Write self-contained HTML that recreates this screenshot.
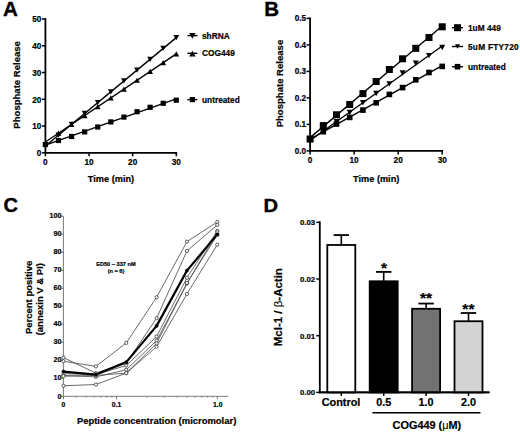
<!DOCTYPE html>
<html><head><meta charset="utf-8"><style>
html,body{margin:0;padding:0;background:#fff;}
svg{display:block;font-family:"Liberation Sans", sans-serif;}
text{stroke:#000;stroke-width:0.2px;}
text.big{stroke-width:0.35px;}
tspan.sym{font-weight:normal;stroke-width:0.1px;}
</style></head><body>
<svg width="520" height="433" viewBox="0 0 520 433">
<rect width="520" height="433" fill="#fff"/>
<text x="0" y="0" font-size="19.5" font-weight="bold" transform="translate(3.0,15.9) scale(1.06,1)" class="big">A</text>
<line x1="45.40" y1="18.10" x2="45.40" y2="153.70" stroke="#000" stroke-width="1.8"/>
<line x1="44.50" y1="152.80" x2="177.20" y2="152.80" stroke="#000" stroke-width="1.8"/>
<line x1="41.90" y1="152.80" x2="45.40" y2="152.80" stroke="#000" stroke-width="1.5"/>
<text x="41.40" y="156.10" font-size="8.2" text-anchor="end" font-weight="bold" >0</text>
<line x1="41.90" y1="126.04" x2="45.40" y2="126.04" stroke="#000" stroke-width="1.5"/>
<text x="41.40" y="129.34" font-size="8.2" text-anchor="end" font-weight="bold" >10</text>
<line x1="41.90" y1="99.28" x2="45.40" y2="99.28" stroke="#000" stroke-width="1.5"/>
<text x="41.40" y="102.58" font-size="8.2" text-anchor="end" font-weight="bold" >20</text>
<line x1="41.90" y1="72.52" x2="45.40" y2="72.52" stroke="#000" stroke-width="1.5"/>
<text x="41.40" y="75.82" font-size="8.2" text-anchor="end" font-weight="bold" >30</text>
<line x1="41.90" y1="45.76" x2="45.40" y2="45.76" stroke="#000" stroke-width="1.5"/>
<text x="41.40" y="49.06" font-size="8.2" text-anchor="end" font-weight="bold" >40</text>
<line x1="41.90" y1="19.00" x2="45.40" y2="19.00" stroke="#000" stroke-width="1.5"/>
<text x="41.40" y="22.30" font-size="8.2" text-anchor="end" font-weight="bold" >50</text>
<line x1="45.40" y1="152.80" x2="45.40" y2="156.30" stroke="#000" stroke-width="1.5"/>
<text x="45.40" y="164.50" font-size="8.2" text-anchor="middle" font-weight="bold" >0</text>
<line x1="89.03" y1="152.80" x2="89.03" y2="156.30" stroke="#000" stroke-width="1.5"/>
<text x="89.03" y="164.50" font-size="8.2" text-anchor="middle" font-weight="bold" >10</text>
<line x1="132.67" y1="152.80" x2="132.67" y2="156.30" stroke="#000" stroke-width="1.5"/>
<text x="132.67" y="164.50" font-size="8.2" text-anchor="middle" font-weight="bold" >20</text>
<line x1="176.30" y1="152.80" x2="176.30" y2="156.30" stroke="#000" stroke-width="1.5"/>
<text x="176.30" y="164.50" font-size="8.2" text-anchor="middle" font-weight="bold" >30</text>
<text x="111.00" y="181.80" font-size="9.2" text-anchor="middle" font-weight="bold" >Time (min)</text>
<text x="0" y="0" font-size="9.55" font-weight="bold" text-anchor="middle" transform="translate(20.4,84.85) rotate(-90)">Phosphate Release</text>
<line x1="45.40" y1="146.00" x2="176.30" y2="37.60" stroke="#000" stroke-width="1.4"/>
<line x1="45.40" y1="142.00" x2="176.30" y2="53.80" stroke="#000" stroke-width="1.4"/>
<line x1="45.40" y1="145.09" x2="176.30" y2="98.89" stroke="#000" stroke-width="1.4"/>
<path d="M42.50 142.19L48.30 142.19L45.40 147.41Z" fill="#000"/>
<path d="M42.50 146.91L48.30 146.91L45.40 141.69Z" fill="#000"/>
<path d="M55.59 132.55L61.39 132.55L58.49 137.77Z" fill="#000"/>
<path d="M55.59 135.79L61.39 135.79L58.49 130.57Z" fill="#000"/>
<path d="M68.68 121.71L74.48 121.71L71.58 126.93Z" fill="#000"/>
<path d="M68.68 126.97L74.48 126.97L71.58 121.75Z" fill="#000"/>
<path d="M81.77 110.87L87.57 110.87L84.67 116.09Z" fill="#000"/>
<path d="M81.77 118.15L87.57 118.15L84.67 112.93Z" fill="#000"/>
<path d="M94.86 100.03L100.66 100.03L97.76 105.25Z" fill="#000"/>
<path d="M94.86 109.33L100.66 109.33L97.76 104.11Z" fill="#000"/>
<path d="M107.95 89.19L113.75 89.19L110.85 94.41Z" fill="#000"/>
<path d="M107.95 100.51L113.75 100.51L110.85 95.29Z" fill="#000"/>
<path d="M121.04 78.35L126.84 78.35L123.94 83.57Z" fill="#000"/>
<path d="M121.04 91.69L126.84 91.69L123.94 86.47Z" fill="#000"/>
<path d="M134.13 67.51L139.93 67.51L137.03 72.73Z" fill="#000"/>
<path d="M134.13 82.87L139.93 82.87L137.03 77.65Z" fill="#000"/>
<path d="M147.22 56.67L153.02 56.67L150.12 61.89Z" fill="#000"/>
<path d="M147.22 74.05L153.02 74.05L150.12 68.83Z" fill="#000"/>
<path d="M160.31 45.83L166.11 45.83L163.21 51.05Z" fill="#000"/>
<path d="M160.31 65.23L166.11 65.23L163.21 60.01Z" fill="#000"/>
<path d="M173.40 34.99L179.20 34.99L176.30 40.21Z" fill="#000"/>
<path d="M173.40 56.41L179.20 56.41L176.30 51.19Z" fill="#000"/>
<rect x="42.80" y="141.90" width="5.2" height="5.2" fill="#000"/>
<rect x="55.89" y="137.90" width="5.2" height="5.2" fill="#000"/>
<rect x="68.98" y="133.90" width="5.2" height="5.2" fill="#000"/>
<rect x="82.07" y="129.30" width="5.2" height="5.2" fill="#000"/>
<rect x="95.16" y="124.40" width="5.2" height="5.2" fill="#000"/>
<rect x="108.25" y="119.30" width="5.2" height="5.2" fill="#000"/>
<rect x="121.34" y="114.50" width="5.2" height="5.2" fill="#000"/>
<rect x="134.43" y="109.10" width="5.2" height="5.2" fill="#000"/>
<rect x="147.52" y="104.70" width="5.2" height="5.2" fill="#000"/>
<rect x="160.61" y="100.70" width="5.2" height="5.2" fill="#000"/>
<rect x="173.70" y="97.60" width="5.2" height="5.2" fill="#000"/>
<line x1="187.40" y1="35.60" x2="197.40" y2="35.60" stroke="#000" stroke-width="1.4"/>
<path d="M189.20 33.02L195.60 33.02L192.40 38.78Z" fill="#000"/>
<text x="202.00" y="38.60" font-size="8.3" text-anchor="start" font-weight="bold" >shRNA</text>
<line x1="187.40" y1="53.30" x2="197.40" y2="53.30" stroke="#000" stroke-width="1.4"/>
<path d="M189.20 56.48L195.60 56.48L192.40 50.72Z" fill="#000"/>
<text x="202.00" y="56.30" font-size="8.3" text-anchor="start" font-weight="bold" >COG449</text>
<line x1="187.40" y1="99.60" x2="197.40" y2="99.60" stroke="#000" stroke-width="1.4"/>
<rect x="189.80" y="97.00" width="5.2" height="5.2" fill="#000"/>
<text x="202.00" y="102.60" font-size="8.3" text-anchor="start" font-weight="bold" >untreated</text>
<text x="0" y="0" font-size="19.5" font-weight="bold" transform="translate(264.2,15.9) scale(1.05,1)" class="big">B</text>
<line x1="310.10" y1="17.50" x2="310.10" y2="151.80" stroke="#000" stroke-width="1.8"/>
<line x1="309.20" y1="150.90" x2="443.10" y2="150.90" stroke="#000" stroke-width="1.8"/>
<line x1="306.60" y1="150.90" x2="310.10" y2="150.90" stroke="#000" stroke-width="1.5"/>
<text x="306.10" y="153.80" font-size="8.2" text-anchor="end" font-weight="bold" >0.0</text>
<line x1="306.60" y1="124.40" x2="310.10" y2="124.40" stroke="#000" stroke-width="1.5"/>
<text x="306.10" y="127.30" font-size="8.2" text-anchor="end" font-weight="bold" >0.1</text>
<line x1="306.60" y1="97.90" x2="310.10" y2="97.90" stroke="#000" stroke-width="1.5"/>
<text x="306.10" y="100.80" font-size="8.2" text-anchor="end" font-weight="bold" >0.2</text>
<line x1="306.60" y1="71.40" x2="310.10" y2="71.40" stroke="#000" stroke-width="1.5"/>
<text x="306.10" y="74.30" font-size="8.2" text-anchor="end" font-weight="bold" >0.3</text>
<line x1="306.60" y1="44.90" x2="310.10" y2="44.90" stroke="#000" stroke-width="1.5"/>
<text x="306.10" y="47.80" font-size="8.2" text-anchor="end" font-weight="bold" >0.4</text>
<line x1="306.60" y1="18.40" x2="310.10" y2="18.40" stroke="#000" stroke-width="1.5"/>
<text x="306.10" y="21.30" font-size="8.2" text-anchor="end" font-weight="bold" >0.5</text>
<line x1="310.10" y1="150.90" x2="310.10" y2="154.40" stroke="#000" stroke-width="1.5"/>
<text x="310.10" y="162.80" font-size="8.2" text-anchor="middle" font-weight="bold" >0</text>
<line x1="354.13" y1="150.90" x2="354.13" y2="154.40" stroke="#000" stroke-width="1.5"/>
<text x="354.13" y="162.80" font-size="8.2" text-anchor="middle" font-weight="bold" >10</text>
<line x1="398.17" y1="150.90" x2="398.17" y2="154.40" stroke="#000" stroke-width="1.5"/>
<text x="398.17" y="162.80" font-size="8.2" text-anchor="middle" font-weight="bold" >20</text>
<line x1="442.20" y1="150.90" x2="442.20" y2="154.40" stroke="#000" stroke-width="1.5"/>
<text x="442.20" y="162.80" font-size="8.2" text-anchor="middle" font-weight="bold" >30</text>
<text x="376.20" y="181.80" font-size="9.2" text-anchor="middle" font-weight="bold" >Time (min)</text>
<text x="0" y="0" font-size="9.55" font-weight="bold" text-anchor="middle" transform="translate(282.5,83.55) rotate(-90)">Phosphate Release</text>
<line x1="310.10" y1="137.65" x2="442.20" y2="25.97" stroke="#000" stroke-width="1.4"/>
<line x1="310.10" y1="140.49" x2="442.20" y2="45.95" stroke="#000" stroke-width="1.4"/>
<line x1="310.10" y1="139.15" x2="442.20" y2="65.58" stroke="#000" stroke-width="1.4"/>
<rect x="307.30" y="136.50" width="5.6" height="5.6" fill="#000"/>
<rect x="320.51" y="128.90" width="5.6" height="5.6" fill="#000"/>
<rect x="333.72" y="121.20" width="5.6" height="5.6" fill="#000"/>
<rect x="346.93" y="114.60" width="5.6" height="5.6" fill="#000"/>
<rect x="360.14" y="107.30" width="5.6" height="5.6" fill="#000"/>
<rect x="373.35" y="100.00" width="5.6" height="5.6" fill="#000"/>
<rect x="386.56" y="91.60" width="5.6" height="5.6" fill="#000"/>
<rect x="399.77" y="84.80" width="5.6" height="5.6" fill="#000"/>
<rect x="412.98" y="77.00" width="5.6" height="5.6" fill="#000"/>
<rect x="426.19" y="69.70" width="5.6" height="5.6" fill="#000"/>
<rect x="439.40" y="63.60" width="5.6" height="5.6" fill="#000"/>
<path d="M307.10 137.70L313.10 137.70L310.10 143.10Z" fill="#000"/>
<path d="M320.31 128.40L326.31 128.40L323.31 133.80Z" fill="#000"/>
<path d="M333.52 119.10L339.52 119.10L336.52 124.50Z" fill="#000"/>
<path d="M346.73 109.80L352.73 109.80L349.73 115.20Z" fill="#000"/>
<path d="M359.94 100.10L365.94 100.10L362.94 105.50Z" fill="#000"/>
<path d="M373.15 90.80L379.15 90.80L376.15 96.20Z" fill="#000"/>
<path d="M386.36 81.20L392.36 81.20L389.36 86.60Z" fill="#000"/>
<path d="M399.57 70.30L405.57 70.30L402.57 75.70Z" fill="#000"/>
<path d="M412.78 60.60L418.78 60.60L415.78 66.00Z" fill="#000"/>
<path d="M425.99 52.90L431.99 52.90L428.99 58.30Z" fill="#000"/>
<path d="M439.20 44.80L445.20 44.80L442.20 50.20Z" fill="#000"/>
<rect x="306.60" y="135.50" width="7.0" height="7.0" fill="#000"/>
<rect x="319.81" y="122.10" width="7.0" height="7.0" fill="#000"/>
<rect x="333.02" y="111.30" width="7.0" height="7.0" fill="#000"/>
<rect x="346.23" y="101.00" width="7.0" height="7.0" fill="#000"/>
<rect x="359.44" y="90.10" width="7.0" height="7.0" fill="#000"/>
<rect x="372.65" y="78.00" width="7.0" height="7.0" fill="#000"/>
<rect x="385.86" y="66.00" width="7.0" height="7.0" fill="#000"/>
<rect x="399.07" y="55.30" width="7.0" height="7.0" fill="#000"/>
<rect x="412.28" y="44.80" width="7.0" height="7.0" fill="#000"/>
<rect x="425.49" y="34.00" width="7.0" height="7.0" fill="#000"/>
<rect x="438.70" y="23.30" width="7.0" height="7.0" fill="#000"/>
<line x1="452.00" y1="27.70" x2="463.00" y2="27.70" stroke="#000" stroke-width="1.4"/>
<rect x="454.00" y="24.20" width="7.0" height="7.0" fill="#000"/>
<text x="468.00" y="30.70" font-size="8.3" text-anchor="start" font-weight="bold" >1uM 449</text>
<line x1="452.00" y1="46.50" x2="463.00" y2="46.50" stroke="#000" stroke-width="1.4"/>
<path d="M455.00 44.25L460.00 44.25L457.50 48.75Z" fill="#000"/>
<text x="468.00" y="49.50" font-size="8.3" text-anchor="start" font-weight="bold" letter-spacing="0.25">5uM FTY720</text>
<line x1="452.00" y1="66.70" x2="463.00" y2="66.70" stroke="#000" stroke-width="1.4"/>
<rect x="454.70" y="63.90" width="5.6" height="5.6" fill="#000"/>
<text x="468.00" y="69.70" font-size="8.3" text-anchor="start" font-weight="bold" >untreated</text>
<text x="0" y="0" font-size="19.5" font-weight="bold" transform="translate(3.4,211.8) scale(1.03,1)" class="big">C</text>
<line x1="63.40" y1="216.20" x2="63.40" y2="396.30" stroke="#6a6a6a" stroke-width="0.9"/>
<line x1="63.40" y1="396.30" x2="228.40" y2="396.30" stroke="#6a6a6a" stroke-width="0.9"/>
<line x1="60.90" y1="396.30" x2="63.40" y2="396.30" stroke="#6a6a6a" stroke-width="0.9"/>
<text x="61.40" y="398.50" font-size="7.2" text-anchor="end" font-weight="bold" >0</text>
<line x1="60.90" y1="378.29" x2="63.40" y2="378.29" stroke="#6a6a6a" stroke-width="0.9"/>
<text x="61.40" y="380.49" font-size="7.2" text-anchor="end" font-weight="bold" >10</text>
<line x1="60.90" y1="360.28" x2="63.40" y2="360.28" stroke="#6a6a6a" stroke-width="0.9"/>
<text x="61.40" y="362.48" font-size="7.2" text-anchor="end" font-weight="bold" >20</text>
<line x1="60.90" y1="342.27" x2="63.40" y2="342.27" stroke="#6a6a6a" stroke-width="0.9"/>
<text x="61.40" y="344.47" font-size="7.2" text-anchor="end" font-weight="bold" >30</text>
<line x1="60.90" y1="324.26" x2="63.40" y2="324.26" stroke="#6a6a6a" stroke-width="0.9"/>
<text x="61.40" y="326.46" font-size="7.2" text-anchor="end" font-weight="bold" >40</text>
<line x1="60.90" y1="306.25" x2="63.40" y2="306.25" stroke="#6a6a6a" stroke-width="0.9"/>
<text x="61.40" y="308.45" font-size="7.2" text-anchor="end" font-weight="bold" >50</text>
<line x1="60.90" y1="288.24" x2="63.40" y2="288.24" stroke="#6a6a6a" stroke-width="0.9"/>
<text x="61.40" y="290.44" font-size="7.2" text-anchor="end" font-weight="bold" >60</text>
<line x1="60.90" y1="270.23" x2="63.40" y2="270.23" stroke="#6a6a6a" stroke-width="0.9"/>
<text x="61.40" y="272.43" font-size="7.2" text-anchor="end" font-weight="bold" >70</text>
<line x1="60.90" y1="252.22" x2="63.40" y2="252.22" stroke="#6a6a6a" stroke-width="0.9"/>
<text x="61.40" y="254.42" font-size="7.2" text-anchor="end" font-weight="bold" >80</text>
<line x1="60.90" y1="234.21" x2="63.40" y2="234.21" stroke="#6a6a6a" stroke-width="0.9"/>
<text x="61.40" y="236.41" font-size="7.2" text-anchor="end" font-weight="bold" >90</text>
<line x1="60.90" y1="216.20" x2="63.40" y2="216.20" stroke="#6a6a6a" stroke-width="0.9"/>
<text x="61.40" y="218.40" font-size="7.2" text-anchor="end" font-weight="bold" >100</text>
<line x1="76.39" y1="396.30" x2="76.39" y2="397.80" stroke="#6a6a6a" stroke-width="0.7"/>
<line x1="86.16" y1="396.30" x2="86.16" y2="397.80" stroke="#6a6a6a" stroke-width="0.7"/>
<line x1="94.14" y1="396.30" x2="94.14" y2="397.80" stroke="#6a6a6a" stroke-width="0.7"/>
<line x1="100.89" y1="396.30" x2="100.89" y2="397.80" stroke="#6a6a6a" stroke-width="0.7"/>
<line x1="106.73" y1="396.30" x2="106.73" y2="397.80" stroke="#6a6a6a" stroke-width="0.7"/>
<line x1="111.89" y1="396.30" x2="111.89" y2="397.80" stroke="#6a6a6a" stroke-width="0.7"/>
<line x1="146.84" y1="396.30" x2="146.84" y2="397.80" stroke="#6a6a6a" stroke-width="0.7"/>
<line x1="164.59" y1="396.30" x2="164.59" y2="397.80" stroke="#6a6a6a" stroke-width="0.7"/>
<line x1="177.19" y1="396.30" x2="177.19" y2="397.80" stroke="#6a6a6a" stroke-width="0.7"/>
<line x1="186.96" y1="396.30" x2="186.96" y2="397.80" stroke="#6a6a6a" stroke-width="0.7"/>
<line x1="194.94" y1="396.30" x2="194.94" y2="397.80" stroke="#6a6a6a" stroke-width="0.7"/>
<line x1="201.69" y1="396.30" x2="201.69" y2="397.80" stroke="#6a6a6a" stroke-width="0.7"/>
<line x1="207.53" y1="396.30" x2="207.53" y2="397.80" stroke="#6a6a6a" stroke-width="0.7"/>
<line x1="212.69" y1="396.30" x2="212.69" y2="397.80" stroke="#6a6a6a" stroke-width="0.7"/>
<line x1="116.50" y1="396.30" x2="116.50" y2="399.30" stroke="#6a6a6a" stroke-width="0.9"/>
<line x1="217.30" y1="396.30" x2="217.30" y2="399.30" stroke="#6a6a6a" stroke-width="0.9"/>
<line x1="63.50" y1="396.30" x2="63.50" y2="399.30" stroke="#6a6a6a" stroke-width="0.9"/>
<text x="63.50" y="406.50" font-size="6.8" text-anchor="middle" font-weight="bold" >0</text>
<text x="116.50" y="406.50" font-size="6.8" text-anchor="middle" font-weight="bold" >0.1</text>
<text x="217.80" y="406.50" font-size="6.8" text-anchor="middle" font-weight="bold" >1.0</text>
<text x="156.60" y="423.80" font-size="9.45" text-anchor="middle" font-weight="bold" >Peptide concentration (micromolar)</text>
<text x="0" y="0" font-size="9.5" font-weight="bold" text-anchor="middle" transform="translate(32.1,297.4) rotate(-90)">Percent positive</text>
<text x="0" y="0" font-size="9.5" font-weight="bold" text-anchor="middle" transform="translate(42.9,299.2) rotate(-90)">(annexin V &amp; PI)</text>
<text x="115.90" y="266.20" font-size="5.6" text-anchor="middle" font-weight="bold" >ED50 ~ 337 nM</text>
<text x="116.00" y="272.90" font-size="5.6" text-anchor="middle" font-weight="bold" >(n = 6)</text>
<polyline points="63.50,361.24 95.92,366.39 126.27,342.93 156.61,297.26 186.96,241.64 217.30,221.92" fill="none" stroke="#444" stroke-width="0.8"/>
<polyline points="63.50,357.68 95.92,373.14 126.27,363.01 156.61,318.23 186.96,250.89 217.30,224.94" fill="none" stroke="#444" stroke-width="0.8"/>
<polyline points="63.50,373.68 95.92,374.56 126.27,365.50 156.61,336.54 186.96,277.72 217.30,230.81" fill="none" stroke="#444" stroke-width="0.8"/>
<polyline points="63.50,375.45 95.92,376.87 126.27,369.77 156.61,340.62 186.96,283.58 217.30,232.23" fill="none" stroke="#444" stroke-width="0.8"/>
<polyline points="63.50,376.16 95.92,375.45 126.27,373.14 156.61,346.67 186.96,293.89 217.30,244.67" fill="none" stroke="#444" stroke-width="0.8"/>
<polyline points="63.50,385.76 95.92,384.52 126.27,373.14 156.61,343.47 186.96,283.05 217.30,235.07" fill="none" stroke="#444" stroke-width="0.8"/>
<polyline points="63.50,371.54 95.92,374.56 126.27,362.13 156.61,325.87 186.96,270.61 217.30,234.36" fill="none" stroke="#000" stroke-width="2.2" stroke-linejoin="round"/>
<circle cx="63.50" cy="361.24" r="1.6" fill="#fff" stroke="#333" stroke-width="0.8"/>
<circle cx="95.92" cy="366.39" r="1.6" fill="#fff" stroke="#333" stroke-width="0.8"/>
<circle cx="126.27" cy="342.93" r="1.6" fill="#fff" stroke="#333" stroke-width="0.8"/>
<circle cx="156.61" cy="297.26" r="1.6" fill="#fff" stroke="#333" stroke-width="0.8"/>
<circle cx="186.96" cy="241.64" r="1.6" fill="#fff" stroke="#333" stroke-width="0.8"/>
<circle cx="217.30" cy="221.92" r="1.6" fill="#fff" stroke="#333" stroke-width="0.8"/>
<circle cx="63.50" cy="357.68" r="1.6" fill="#fff" stroke="#333" stroke-width="0.8"/>
<circle cx="95.92" cy="373.14" r="1.6" fill="#fff" stroke="#333" stroke-width="0.8"/>
<circle cx="126.27" cy="363.01" r="1.6" fill="#fff" stroke="#333" stroke-width="0.8"/>
<circle cx="156.61" cy="318.23" r="1.6" fill="#fff" stroke="#333" stroke-width="0.8"/>
<circle cx="186.96" cy="250.89" r="1.6" fill="#fff" stroke="#333" stroke-width="0.8"/>
<circle cx="217.30" cy="224.94" r="1.6" fill="#fff" stroke="#333" stroke-width="0.8"/>
<circle cx="63.50" cy="373.68" r="1.6" fill="#fff" stroke="#333" stroke-width="0.8"/>
<circle cx="95.92" cy="374.56" r="1.6" fill="#fff" stroke="#333" stroke-width="0.8"/>
<circle cx="126.27" cy="365.50" r="1.6" fill="#fff" stroke="#333" stroke-width="0.8"/>
<circle cx="156.61" cy="336.54" r="1.6" fill="#fff" stroke="#333" stroke-width="0.8"/>
<circle cx="186.96" cy="277.72" r="1.6" fill="#fff" stroke="#333" stroke-width="0.8"/>
<circle cx="217.30" cy="230.81" r="1.6" fill="#fff" stroke="#333" stroke-width="0.8"/>
<circle cx="63.50" cy="375.45" r="1.6" fill="#fff" stroke="#333" stroke-width="0.8"/>
<circle cx="95.92" cy="376.87" r="1.6" fill="#fff" stroke="#333" stroke-width="0.8"/>
<circle cx="126.27" cy="369.77" r="1.6" fill="#fff" stroke="#333" stroke-width="0.8"/>
<circle cx="156.61" cy="340.62" r="1.6" fill="#fff" stroke="#333" stroke-width="0.8"/>
<circle cx="186.96" cy="283.58" r="1.6" fill="#fff" stroke="#333" stroke-width="0.8"/>
<circle cx="217.30" cy="232.23" r="1.6" fill="#fff" stroke="#333" stroke-width="0.8"/>
<circle cx="63.50" cy="376.16" r="1.6" fill="#fff" stroke="#333" stroke-width="0.8"/>
<circle cx="95.92" cy="375.45" r="1.6" fill="#fff" stroke="#333" stroke-width="0.8"/>
<circle cx="126.27" cy="373.14" r="1.6" fill="#fff" stroke="#333" stroke-width="0.8"/>
<circle cx="156.61" cy="346.67" r="1.6" fill="#fff" stroke="#333" stroke-width="0.8"/>
<circle cx="186.96" cy="293.89" r="1.6" fill="#fff" stroke="#333" stroke-width="0.8"/>
<circle cx="217.30" cy="244.67" r="1.6" fill="#fff" stroke="#333" stroke-width="0.8"/>
<circle cx="63.50" cy="385.76" r="1.6" fill="#fff" stroke="#333" stroke-width="0.8"/>
<circle cx="95.92" cy="384.52" r="1.6" fill="#fff" stroke="#333" stroke-width="0.8"/>
<circle cx="126.27" cy="373.14" r="1.6" fill="#fff" stroke="#333" stroke-width="0.8"/>
<circle cx="156.61" cy="343.47" r="1.6" fill="#fff" stroke="#333" stroke-width="0.8"/>
<circle cx="186.96" cy="283.05" r="1.6" fill="#fff" stroke="#333" stroke-width="0.8"/>
<circle cx="217.30" cy="235.07" r="1.6" fill="#fff" stroke="#333" stroke-width="0.8"/>
<circle cx="63.50" cy="371.54" r="1.6" fill="#000" stroke="#000" stroke-width="0.5"/>
<circle cx="95.92" cy="374.56" r="1.6" fill="#000" stroke="#000" stroke-width="0.5"/>
<circle cx="126.27" cy="362.13" r="1.6" fill="#000" stroke="#000" stroke-width="0.5"/>
<circle cx="156.61" cy="325.87" r="1.6" fill="#000" stroke="#000" stroke-width="0.5"/>
<circle cx="186.96" cy="270.61" r="1.6" fill="#000" stroke="#000" stroke-width="0.5"/>
<circle cx="217.30" cy="234.36" r="1.6" fill="#000" stroke="#000" stroke-width="0.5"/>
<text x="0" y="0" font-size="17.5" font-weight="bold" transform="translate(263.6,211.8) scale(1.15,1)" class="big">D</text>
<line x1="319.80" y1="221.40" x2="319.80" y2="392.40" stroke="#000" stroke-width="1.8"/>
<line x1="318.90" y1="392.40" x2="489.50" y2="392.40" stroke="#000" stroke-width="1.8"/>
<line x1="316.30" y1="392.40" x2="319.80" y2="392.40" stroke="#000" stroke-width="1.5"/>
<text x="315.20" y="395.20" font-size="7.8" text-anchor="end" font-weight="bold" >0.00</text>
<line x1="316.30" y1="335.70" x2="319.80" y2="335.70" stroke="#000" stroke-width="1.5"/>
<text x="315.20" y="338.50" font-size="7.8" text-anchor="end" font-weight="bold" >0.01</text>
<line x1="316.30" y1="279.00" x2="319.80" y2="279.00" stroke="#000" stroke-width="1.5"/>
<text x="315.20" y="281.80" font-size="7.8" text-anchor="end" font-weight="bold" >0.02</text>
<line x1="316.30" y1="222.30" x2="319.80" y2="222.30" stroke="#000" stroke-width="1.5"/>
<text x="315.20" y="225.10" font-size="7.8" text-anchor="end" font-weight="bold" >0.03</text>
<line x1="341.30" y1="244.98" x2="341.30" y2="235.06" stroke="#000" stroke-width="1.6"/>
<line x1="333.60" y1="235.06" x2="349.00" y2="235.06" stroke="#000" stroke-width="1.8"/>
<rect x="327.30" y="244.98" width="28.0" height="147.42" fill="#fff" stroke="#000" stroke-width="1.8"/>
<line x1="341.30" y1="392.40" x2="341.30" y2="395.90" stroke="#000" stroke-width="1.5"/>
<line x1="383.70" y1="281.27" x2="383.70" y2="271.91" stroke="#000" stroke-width="1.6"/>
<line x1="376.00" y1="271.91" x2="391.40" y2="271.91" stroke="#000" stroke-width="1.8"/>
<rect x="369.70" y="281.27" width="28.0" height="111.13" fill="#000" stroke="#000" stroke-width="1.8"/>
<line x1="383.70" y1="392.40" x2="383.70" y2="395.90" stroke="#000" stroke-width="1.5"/>
<line x1="426.10" y1="308.77" x2="426.10" y2="303.55" stroke="#000" stroke-width="1.6"/>
<line x1="418.40" y1="303.55" x2="433.80" y2="303.55" stroke="#000" stroke-width="1.8"/>
<rect x="412.10" y="308.77" width="28.0" height="83.63" fill="#727272" stroke="#000" stroke-width="1.8"/>
<line x1="426.10" y1="392.40" x2="426.10" y2="395.90" stroke="#000" stroke-width="1.5"/>
<line x1="468.50" y1="321.24" x2="468.50" y2="313.02" stroke="#000" stroke-width="1.6"/>
<line x1="460.80" y1="313.02" x2="476.20" y2="313.02" stroke="#000" stroke-width="1.8"/>
<rect x="454.50" y="321.24" width="28.0" height="71.16" fill="#d3d3d3" stroke="#000" stroke-width="1.8"/>
<line x1="468.50" y1="392.40" x2="468.50" y2="395.90" stroke="#000" stroke-width="1.5"/>
<line x1="318.90" y1="392.40" x2="489.50" y2="392.40" stroke="#000" stroke-width="1.8"/>
<text x="384.00" y="272.60" font-size="15.5" text-anchor="middle" font-weight="bold" >*</text>
<text x="426.10" y="303.00" font-size="15.5" text-anchor="middle" font-weight="bold" >**</text>
<text x="468.40" y="313.60" font-size="15.5" text-anchor="middle" font-weight="bold" >**</text>
<text x="341.00" y="406.40" font-size="10.9" text-anchor="middle" font-weight="bold" >Control</text>
<text x="383.70" y="406.40" font-size="10.8" text-anchor="middle" font-weight="bold" >0.5</text>
<text x="426.10" y="406.40" font-size="10.8" text-anchor="middle" font-weight="bold" >1.0</text>
<text x="468.50" y="406.40" font-size="10.8" text-anchor="middle" font-weight="bold" >2.0</text>
<line x1="372.40" y1="412.80" x2="480.50" y2="412.80" stroke="#000" stroke-width="1.6"/>
<text x="426.90" y="429.00" font-size="10.9" text-anchor="middle" font-weight="bold" >COG449 (<tspan class="sym">&#956;</tspan>M)</text>
<text x="0" y="0" font-size="11.5" font-weight="bold" text-anchor="middle" transform="translate(281.6,307.2) rotate(-90)">Mcl-1 / <tspan class="sym">&#946;</tspan>-Actin</text>
</svg>
</body></html>
